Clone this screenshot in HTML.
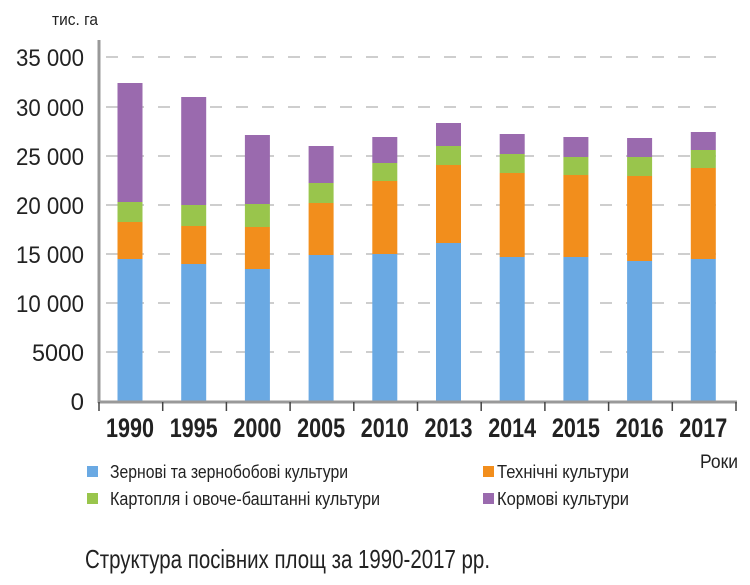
<!DOCTYPE html>
<html><head><meta charset="utf-8"><style>
html,body{margin:0;padding:0;background:#fff;}
svg{display:block;}
text{font-family:"Liberation Sans",sans-serif;fill:#222;}
</style></head><body>
<svg width="750" height="585" viewBox="0 0 750 585">
<text x="52" y="25" font-size="17" textLength="46" lengthAdjust="spacingAndGlyphs">тис. га</text>
<g stroke="#bdbdbd" stroke-width="1.5" stroke-dasharray="12 14">
<line x1="106" x2="724" y1="57" y2="57"/>
<line x1="106" x2="724" y1="107" y2="107"/>
<line x1="106" x2="724" y1="156" y2="156"/>
<line x1="106" x2="724" y1="205" y2="205"/>
<line x1="106" x2="724" y1="254" y2="254"/>
<line x1="106" x2="724" y1="303" y2="303"/>
<line x1="106" x2="724" y1="352" y2="352"/>
</g>
<g font-size="24" text-anchor="end" lengthAdjust="spacingAndGlyphs">
<text x="84" y="66" textLength="68" lengthAdjust="spacingAndGlyphs">35 000</text>
<text x="84" y="116" textLength="68" lengthAdjust="spacingAndGlyphs">30 000</text>
<text x="84" y="165" textLength="68" lengthAdjust="spacingAndGlyphs">25 000</text>
<text x="84" y="214" textLength="68" lengthAdjust="spacingAndGlyphs">20 000</text>
<text x="84" y="263" textLength="68" lengthAdjust="spacingAndGlyphs">15 000</text>
<text x="84" y="312" textLength="68" lengthAdjust="spacingAndGlyphs">10 000</text>
<text x="84" y="361" textLength="52" lengthAdjust="spacingAndGlyphs">5000</text>
<text x="84" y="410">0</text>
</g>
<g>
<rect x="117.5" y="259" width="25" height="142" fill="#6aa9e3"/><rect x="117.5" y="222" width="25" height="37" fill="#f28e1c"/><rect x="117.5" y="202" width="25" height="20" fill="#99c54c"/><rect x="117.5" y="83" width="25" height="119" fill="#9a6aae"/>
<rect x="181.2" y="264" width="25" height="137" fill="#6aa9e3"/><rect x="181.2" y="226" width="25" height="38" fill="#f28e1c"/><rect x="181.2" y="205" width="25" height="21" fill="#99c54c"/><rect x="181.2" y="97" width="25" height="108" fill="#9a6aae"/>
<rect x="244.9" y="269" width="25" height="132" fill="#6aa9e3"/><rect x="244.9" y="227" width="25" height="42" fill="#f28e1c"/><rect x="244.9" y="204" width="25" height="23" fill="#99c54c"/><rect x="244.9" y="135" width="25" height="69" fill="#9a6aae"/>
<rect x="308.6" y="255" width="25" height="146" fill="#6aa9e3"/><rect x="308.6" y="203" width="25" height="52" fill="#f28e1c"/><rect x="308.6" y="183" width="25" height="20" fill="#99c54c"/><rect x="308.6" y="146" width="25" height="37" fill="#9a6aae"/>
<rect x="372.3" y="254" width="25" height="147" fill="#6aa9e3"/><rect x="372.3" y="181" width="25" height="73" fill="#f28e1c"/><rect x="372.3" y="163" width="25" height="18" fill="#99c54c"/><rect x="372.3" y="137" width="25" height="26" fill="#9a6aae"/>
<rect x="436" y="243" width="25" height="158" fill="#6aa9e3"/><rect x="436" y="165" width="25" height="78" fill="#f28e1c"/><rect x="436" y="146" width="25" height="19" fill="#99c54c"/><rect x="436" y="123" width="25" height="23" fill="#9a6aae"/>
<rect x="499.7" y="257" width="25" height="144" fill="#6aa9e3"/><rect x="499.7" y="173" width="25" height="84" fill="#f28e1c"/><rect x="499.7" y="154" width="25" height="19" fill="#99c54c"/><rect x="499.7" y="134" width="25" height="20" fill="#9a6aae"/>
<rect x="563.4" y="257" width="25" height="144" fill="#6aa9e3"/><rect x="563.4" y="175" width="25" height="82" fill="#f28e1c"/><rect x="563.4" y="157" width="25" height="18" fill="#99c54c"/><rect x="563.4" y="137" width="25" height="20" fill="#9a6aae"/>
<rect x="627.1" y="261" width="25" height="140" fill="#6aa9e3"/><rect x="627.1" y="176" width="25" height="85" fill="#f28e1c"/><rect x="627.1" y="157" width="25" height="19" fill="#99c54c"/><rect x="627.1" y="138" width="25" height="19" fill="#9a6aae"/>
<rect x="690.8" y="259" width="25" height="142" fill="#6aa9e3"/><rect x="690.8" y="168" width="25" height="91" fill="#f28e1c"/><rect x="690.8" y="150" width="25" height="18" fill="#99c54c"/><rect x="690.8" y="132" width="25" height="18" fill="#9a6aae"/>
</g>
<line x1="99" y1="40" x2="99" y2="403" stroke="#999" stroke-width="3"/>
<line x1="98" y1="402" x2="737" y2="402" stroke="#999" stroke-width="3"/>
<g stroke="#444" stroke-width="1.5">
<line x1="99" x2="99" y1="402" y2="411"/><line x1="162.7" x2="162.7" y1="402" y2="411"/><line x1="226.4" x2="226.4" y1="402" y2="411"/><line x1="290.1" x2="290.1" y1="402" y2="411"/><line x1="353.8" x2="353.8" y1="402" y2="411"/><line x1="417.5" x2="417.5" y1="402" y2="411"/><line x1="481.2" x2="481.2" y1="402" y2="411"/><line x1="544.9" x2="544.9" y1="402" y2="411"/><line x1="608.6" x2="608.6" y1="402" y2="411"/><line x1="672.3" x2="672.3" y1="402" y2="411"/><line x1="736" x2="736" y1="402" y2="411"/>
</g>
<g font-size="27" font-weight="bold">
<text x="106" y="437" textLength="48" lengthAdjust="spacingAndGlyphs">1990</text>
<text x="169.7" y="437" textLength="48" lengthAdjust="spacingAndGlyphs">1995</text>
<text x="233.4" y="437" textLength="48" lengthAdjust="spacingAndGlyphs">2000</text>
<text x="297.1" y="437" textLength="48" lengthAdjust="spacingAndGlyphs">2005</text>
<text x="360.8" y="437" textLength="48" lengthAdjust="spacingAndGlyphs">2010</text>
<text x="424.5" y="437" textLength="48" lengthAdjust="spacingAndGlyphs">2013</text>
<text x="488.2" y="437" textLength="48" lengthAdjust="spacingAndGlyphs">2014</text>
<text x="551.9" y="437" textLength="48" lengthAdjust="spacingAndGlyphs">2015</text>
<text x="615.6" y="437" textLength="48" lengthAdjust="spacingAndGlyphs">2016</text>
<text x="679.3" y="437" textLength="48" lengthAdjust="spacingAndGlyphs">2017</text>
</g>
<text x="700" y="468" font-size="19" textLength="38" lengthAdjust="spacingAndGlyphs">Роки</text>
<rect x="87" y="466" width="11" height="11" fill="#6aa9e3"/>
<text x="110" y="478" font-size="18" textLength="238" lengthAdjust="spacingAndGlyphs">Зернові та зернобобові культури</text>
<rect x="483" y="466" width="11" height="11" fill="#f28e1c"/>
<text x="497" y="478" font-size="18" textLength="132" lengthAdjust="spacingAndGlyphs">Технічні культури</text>
<rect x="87" y="493" width="11" height="11" fill="#99c54c"/>
<text x="110" y="505" font-size="18" textLength="270" lengthAdjust="spacingAndGlyphs">Картопля і овоче-баштанні культури</text>
<rect x="483" y="493" width="11" height="11" fill="#9a6aae"/>
<text x="497" y="505" font-size="18" textLength="132" lengthAdjust="spacingAndGlyphs">Кормові культури</text>
<text x="85" y="568" font-size="26" textLength="405" lengthAdjust="spacingAndGlyphs">Структура посівних площ за 1990-2017 рр.</text>
</svg>
</body></html>
